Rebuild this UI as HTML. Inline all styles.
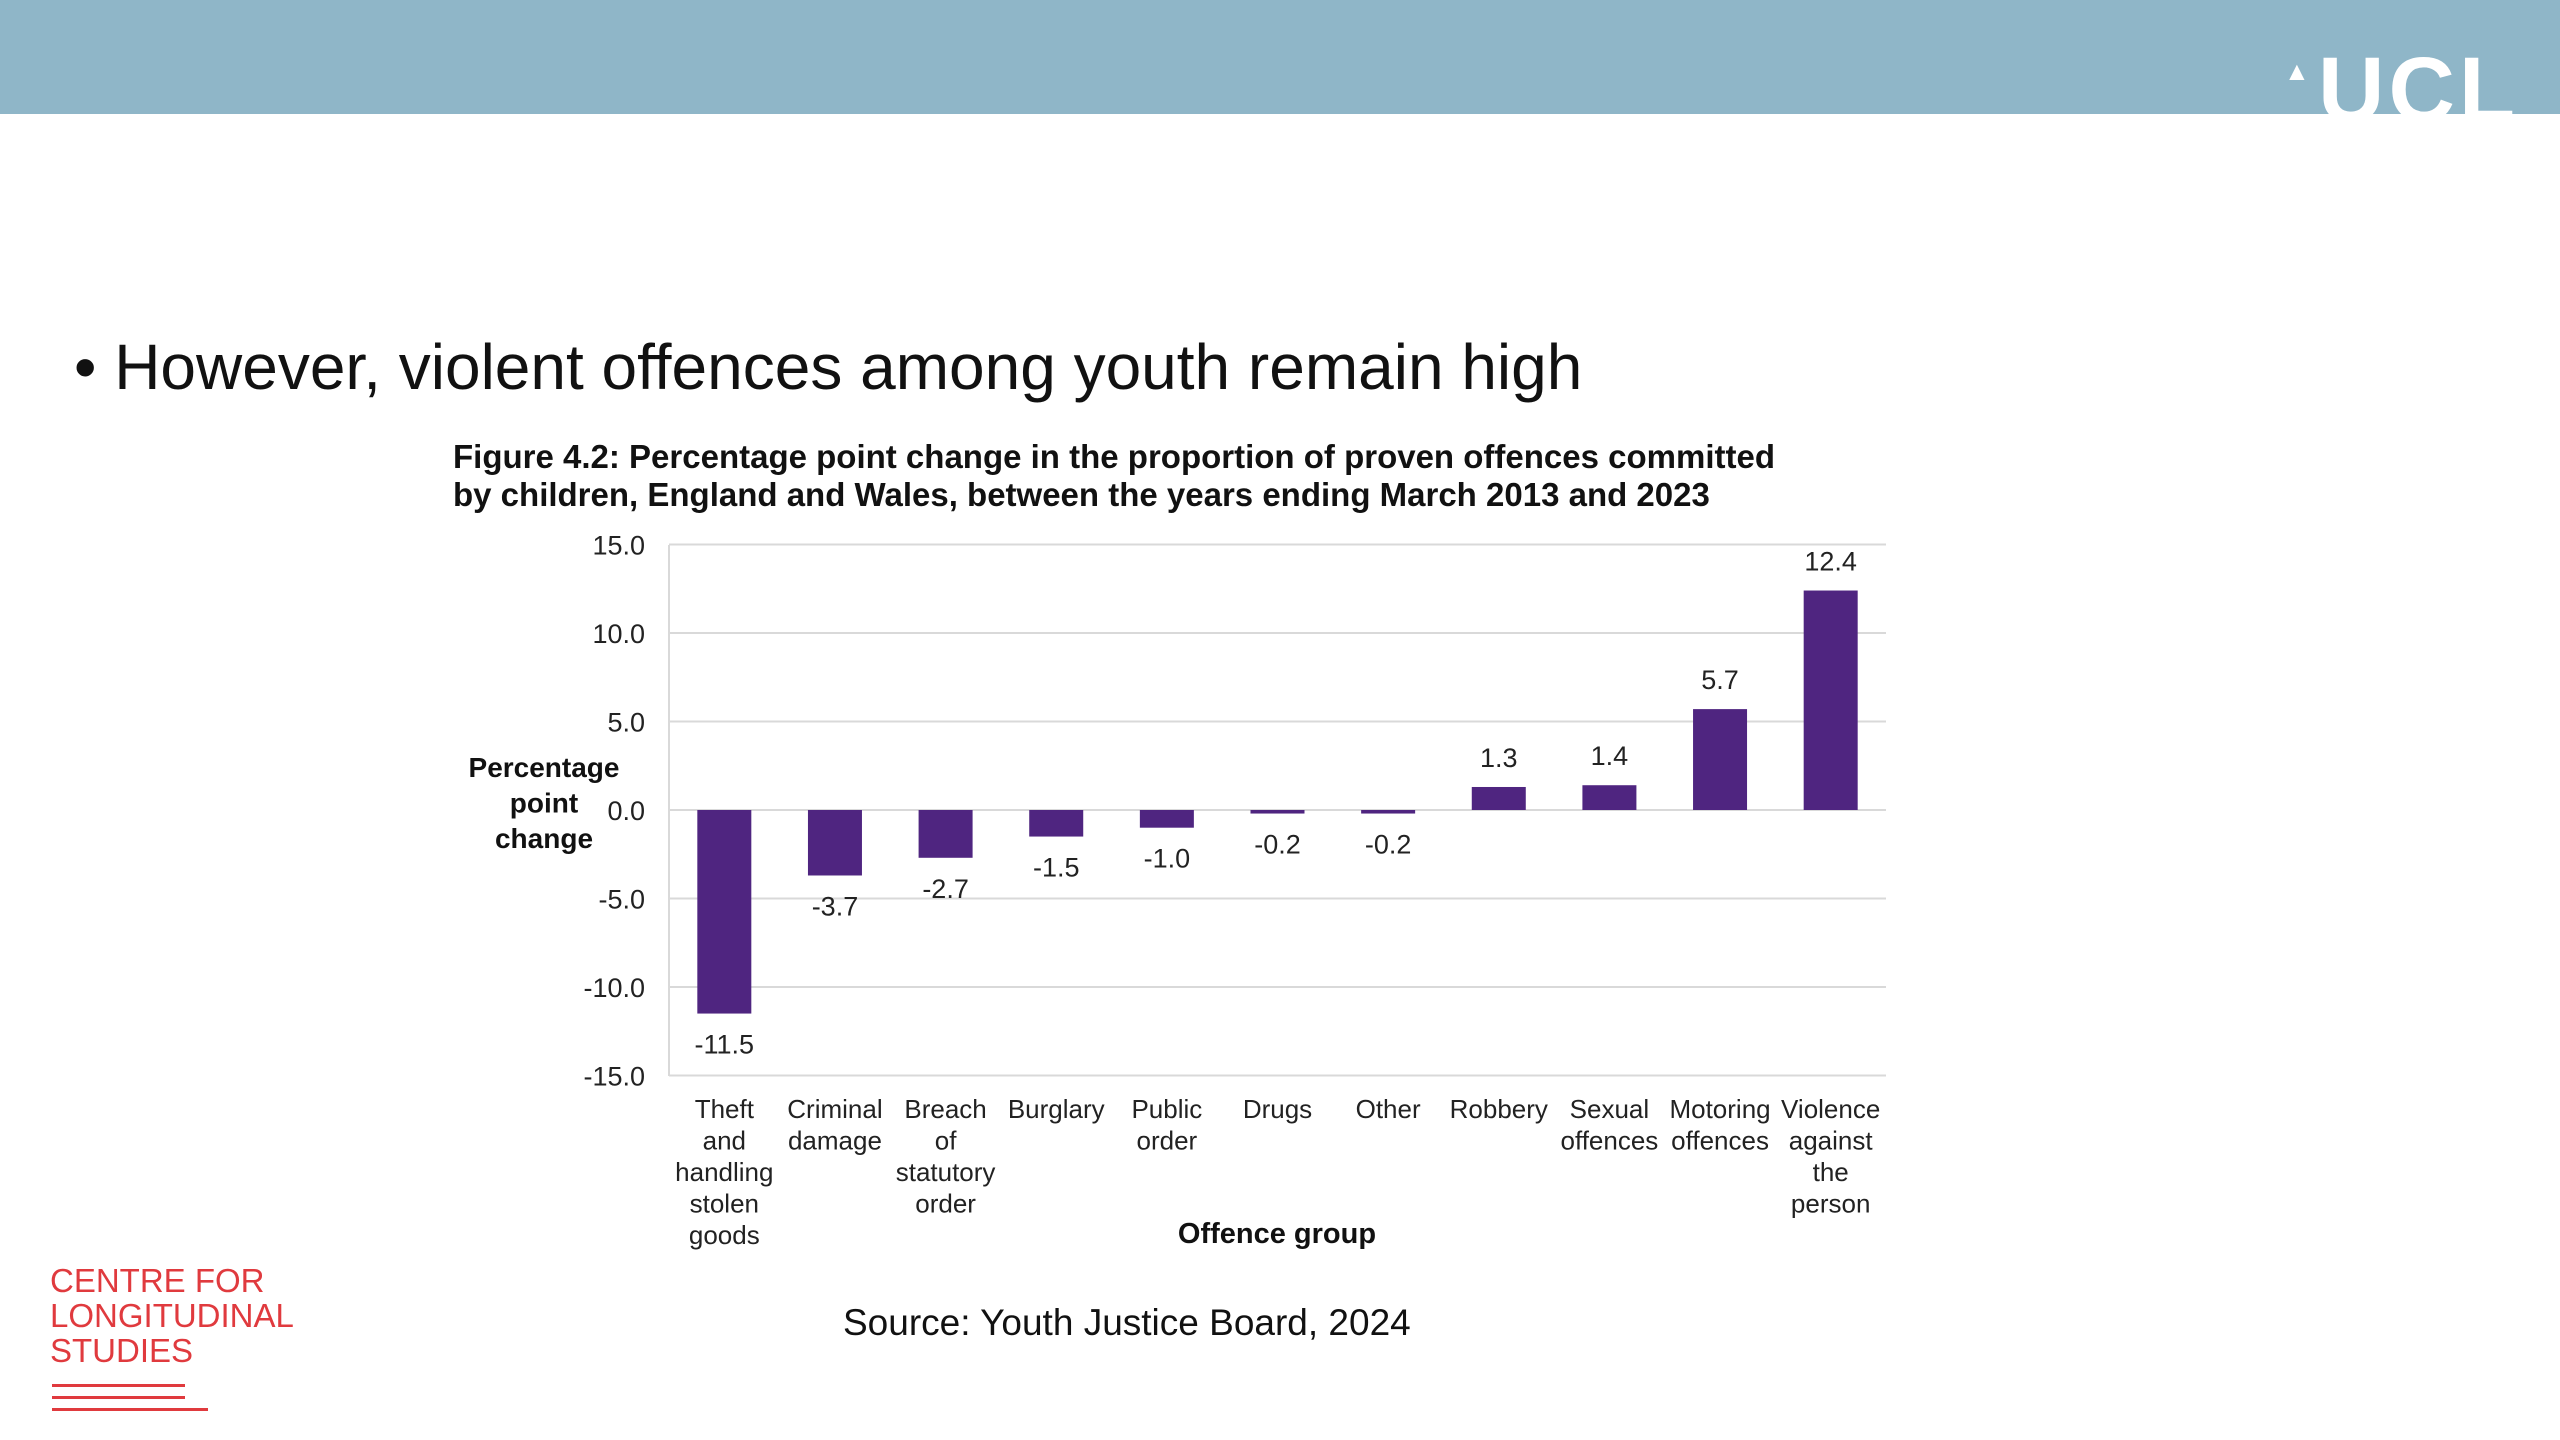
<!DOCTYPE html>
<html><head><meta charset="utf-8"><style>
body{margin:0;width:2560px;height:1440px;background:#fff;position:relative;overflow:hidden;font-family:"Liberation Sans",Arial,sans-serif}
.hdr{position:absolute;left:0;top:0;width:2560px;height:114px;background:#8fb6c8;overflow:hidden}
.ucl{position:absolute;left:2318px;top:44px;font-size:92px;font-weight:bold;color:#fff;letter-spacing:4px;line-height:92px;white-space:nowrap}
.dome{position:absolute;left:2284px;top:56px;font-size:26px;color:#fff}
.bullet{position:absolute;left:74px;top:330px;font-size:64px;color:#111;white-space:nowrap}
.ftitle{position:absolute;left:453px;top:438px;font-size:33px;font-weight:bold;color:#111;line-height:38px;white-space:nowrap}
.src{position:absolute;left:843px;top:1302px;font-size:37px;color:#111}
.cls{position:absolute;left:50px;top:1263px;color:#e03a3e;font-size:33px;line-height:35px}
.ln{position:absolute;height:3px;background:#e03a3e}
</style></head><body>
<div class="hdr">
<div class="dome">&#9650;</div>
<div class="ucl">UCL</div>
</div>
<div class="bullet">• However, violent offences among youth remain high</div>
<div class="ftitle">Figure 4.2: Percentage point change in the proportion of proven offences committed<br>by children, England and Wales, between the years ending March 2013 and 2023</div>
<svg id="chart" style="position:absolute;left:0;top:0" width="2560" height="1440"></svg>
<div class="src">Source: Youth Justice Board, 2024</div>
<div class="cls">CENTRE FOR<br>LONGITUDINAL<br>STUDIES</div>
<div class="ln" style="left:52px;top:1384px;width:133px"></div>
<div class="ln" style="left:52px;top:1396px;width:133px"></div>
<div class="ln" style="left:52px;top:1408px;width:156px"></div>
<script>
const categories=[["Theft","and","handling","stolen","goods"],["Criminal","damage"],["Breach","of","statutory","order"],["Burglary"],["Public","order"],["Drugs"],["Other"],["Robbery"],["Sexual","offences"],["Motoring","offences"],["Violence","against","the","person"]];
const values=[-11.5,-3.7,-2.7,-1.5,-1.0,-0.2,-0.2,1.3,1.4,5.7,12.4];
const ticks=[15,10,5,0,-5,-10,-15];
const NS="http://www.w3.org/2000/svg",svg=document.getElementById('chart');
const X0=669,X1=1886,Y0=810,K=(1076-545)/30;
const y=v=>Y0-v*K, bw=(X1-X0)/categories.length, xc=i=>X0+bw*(i+0.5);
function mk(t,a,txt){const e=document.createElementNS(NS,t);for(const k in a)e.setAttribute(k,a[k]);if(txt!=null)e.textContent=txt;svg.appendChild(e);return e;}
ticks.forEach(t=>{
 const g=mk('line',{x1:X0,x2:X1,y1:y(t),y2:y(t),stroke:'#d9d9d9','stroke-width':2});
 
 
 const l=mk('text',{x:645,y:y(t)+10,'text-anchor':'end','font-size':27,fill:'#222'},t.toFixed(1));
 
 
});
const ax=mk('line',{x1:X0,x2:X0,y1:545,y2:1076,stroke:'#d9d9d9','stroke-width':2});


values.forEach((v,i)=>{
 const b=mk('rect',{x:xc(i)-27,y:Math.min(y(v),Y0),width:54,height:Math.abs(y(v)-Y0),fill:'#4f2580'});
 
 
 const ly=v>=0?y(v)-20:y(v)+40;
 const t=mk('text',{x:xc(i),y:ly,'text-anchor':'middle','font-size':27,fill:'#222'},v.toFixed(1));
 
 
 categories[i].forEach((w,j)=>{
  const c=mk('text',{x:xc(i),y:1118+j*31.5,'text-anchor':'middle','font-size':26,fill:'#222'},w);
  
  
 });
});
['Percentage','point','change'].forEach((w,j)=>{
 const t=mk('text',{x:544,y:777+j*35.5,'text-anchor':'middle','font-size':28,'font-weight':'bold',fill:'#111'},w);
 
 
});
const xt=mk('text',{x:1277,y:1243,'text-anchor':'middle','font-size':29,'font-weight':'bold',fill:'#111'},'Offence group');


</script>
</body></html>
